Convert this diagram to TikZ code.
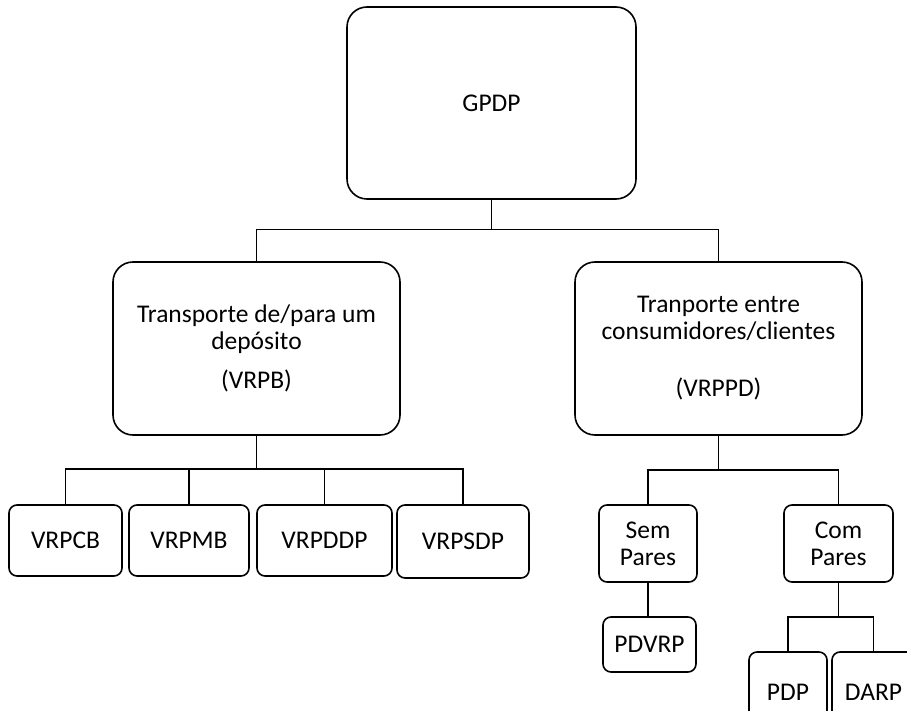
\documentclass[tikz,border=0pt]{standalone}
\usepackage{fontspec}
\setmainfont{Carlito}
\begin{document}
\begin{tikzpicture}[x=1pt,y=-1pt,
  bigbox/.style={draw,line width=1.6pt,rounded corners=20pt,inner sep=0pt,align=center,
    font=\fontsize{25.5}{27}\selectfont},
  smallbox/.style={draw,line width=1.6pt,rounded corners=8pt,inner sep=0pt,align=center,
    font=\fontsize{25.5}{27}\selectfont},
  thinlink/.style={line width=1pt},
  link/.style={line width=1.6pt}]
\useasboundingbox (0,0) rectangle (907,711);
\clip (0,0) rectangle (907,711);
\fill[white] (0,0) rectangle (907,711);
% main boxes
\node[bigbox,minimum width=289pt,minimum height=192pt] (G) at (491.5,103) {GPDP};
\node[bigbox,minimum width=287pt,minimum height=173pt] (L) at (256.5,348.5)
  {Transporte de/para um\\ depósito\\[12pt] (VRPB)};
\node[bigbox,minimum width=287pt,minimum height=173pt] (R) at (718.5,348.5)
  {Tranporte entre\\ consumidores/clientes\\[30pt] (VRPPD)};
% left children
\node[smallbox,minimum width=113pt,minimum height=71pt] (A1) at (65.5,540.5) {VRPCB};
\node[smallbox,minimum width=120pt,minimum height=71pt] (A2) at (189,540.5) {VRPMB};
\node[smallbox,minimum width=135pt,minimum height=71pt] (A3) at (324.5,540.5) {VRPDDP};
\node[smallbox,minimum width=132pt,minimum height=73pt] (A4) at (463,541.5) {VRPSDP};
% right children
\node[smallbox,minimum width=98pt,minimum height=77pt] (S) at (648,543.5) {Sem\\Pares};
\node[smallbox,minimum width=109pt,minimum height=77pt] (C) at (838.5,543.5) {Com\\Pares};
\node[smallbox,minimum width=93pt,minimum height=55pt] (P1) at (649.5,644.5) {PDVRP};
\node[smallbox,minimum width=78pt,minimum height=80pt] (P2) at (788,692) {PDP};
\node[smallbox,minimum width=83pt,minimum height=80pt] (P3) at (873.5,692) {DARP};
% connectors
\coordinate (tbus) at (491.5,230);
\draw[thinlink] (G.south) -- (tbus);
\draw[thinlink] (L.north) |- (tbus);
\draw[thinlink] (R.north) |- (tbus);
\coordinate (lbus) at (256.5,469);
\draw[link] (L.south) -- (lbus);
\draw[link] (A1.north) |- (lbus);
\draw[link] (A2.north) |- (lbus);
\draw[link] (A3.north) |- (lbus);
\draw[link] (A4.north) |- (lbus);
\coordinate (rbus) at (718.5,470);
\draw[link] (R.south) -- (rbus);
\draw[link] (S.north) |- (rbus);
\draw[link] (C.north) |- (rbus);
\draw[link] (S.south) -- (S.south |- P1.north);
\coordinate (cbus) at (838.5,617);
\draw[link] (C.south) -- (cbus);
\draw[link] (P2.north) |- (cbus);
\draw[link] (P3.north) |- (cbus);
\end{tikzpicture}
\end{document}
